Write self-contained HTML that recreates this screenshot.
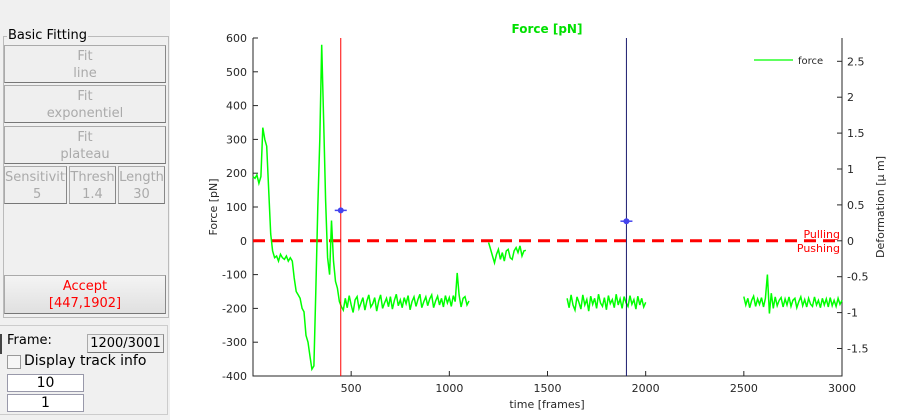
<!DOCTYPE html>
<html><head><meta charset="utf-8"><style>
body{margin:0;width:900px;height:420px;background:#fff;font-family:"DejaVu Sans","Liberation Sans",sans-serif;position:relative;overflow:hidden}
.lp{position:absolute;left:0;top:0;width:170px;height:420px;background:#f0f0f0}
.btn{position:absolute;background:#efefef;border:1px solid #aaa;border-bottom-color:#777;border-right-color:#888;color:#aaa;font-size:13px;text-align:center;line-height:17px;box-sizing:border-box;padding-top:2px;overflow:hidden;white-space:nowrap}
.inp{position:absolute;background:#fff;border:1px solid #99a;font-size:14px;text-align:center;line-height:16px;box-sizing:border-box}
</style></head><body>
<div class="lp">
 <div style="position:absolute;left:3px;top:36px;width:164px;height:280px;border:1px solid #bbb"></div>
 <div style="position:absolute;left:7px;top:28px;background:#f0f0f0;font-size:13px;padding:0 1px">Basic Fitting</div>
 <div class="btn" style="left:4px;top:45px;width:162px;height:38px">Fit<br>line</div>
 <div class="btn" style="left:4px;top:85px;width:162px;height:38px">Fit<br>exponentiel</div>
 <div class="btn" style="left:4px;top:126px;width:162px;height:38px">Fit<br>plateau</div>
 <div class="btn" style="left:4px;top:166px;width:63px;height:38px;text-align:left">Sensitivity<br><span style="padding-left:28px">5</span></div>
 <div class="btn" style="left:69px;top:166px;width:47px;height:38px">Thresh<br>1.4</div>
 <div class="btn" style="left:118px;top:166px;width:47px;height:38px">Length<br>30</div>
 <div class="btn" style="left:4px;top:275px;width:162px;height:39px;color:#f00;background:linear-gradient(#f4f4f4,#e0e0e0)">Accept<br>[447,1902]</div>
 <div style="position:absolute;left:0;top:325px;width:167px;height:88px;border-top:1px solid #ccc;border-right:1px solid #ccc;border-bottom:1px solid #ccc"></div>
 <div style="position:absolute;left:0;top:334px;width:2px;height:20px;background:#444"></div>
 <div style="position:absolute;left:7px;top:333px;font-size:13px">Frame:</div>
 <div class="btn" style="left:87px;top:334px;width:77px;height:19px;color:#000;font-size:13px;padding-top:0;line-height:17px">1200/3001</div>
 <div style="position:absolute;left:7px;top:355px;width:12px;height:12px;border:1px solid #999;background:#f6f6f6"></div>
 <div style="position:absolute;left:24px;top:353px;font-size:14px">Display track info</div>
 <div class="inp" style="left:7px;top:374px;width:77px;height:18px">10</div>
 <div class="inp" style="left:7px;top:394px;width:77px;height:18px">1</div>
</div>
<svg id="chart" width="900" height="420" style="position:absolute;left:0;top:0"></svg>
<script>
const xTicks=[500,1000,1500,2000,2500,3000];
const yTicks=[-400,-300,-200,-100,0,100,200,300,400,500,600];
const yRTicks=[-1.5,-1,-0.5,0,0.5,1,1.5,2,2.5];
const forceStart=0, forceStep=10;
const forceValues=[
190,185,195,170,190,335,300,280,150,20,
-30,-50,-45,-60,-40,-50,-55,-45,-60,-50,-60,
-110,-150,-160,-170,-200,-210,-280,-300,-340,
-380,-370,-150,100,300,580,350,120,-50,-100,60,-60,-120,-140,-180,-195,
-205,-170,-198,-162,-190,-212,-175,-165,-200,-184,-168,-205,-178,-160,-196,-186,-168,-208,-178,-160,-200,-184,-170,-195,-165,-202,-176,-158,-192,-175,-198,-168,-186,-162,-204,-180,-166,-194,-174,-158,-198,-180,-166,-192,-172,-160,-198,-178,-164,-190,-170,-196,-162,-184,-168,-194,-162,-180,-95,-160,-196,-170,-165,-190,-178,
null,null,null,null,null,null,null,null,null,
-5,-25,-45,-65,-40,-25,-55,-35,-60,-30,-25,-50,-55,-30,-20,-35,-15,-45,-30,-28,
null,null,null,null,null,null,null,null,null,null,null,null,null,null,null,null,null,null,null,null,
-170,-198,-160,-190,-205,-166,-182,-202,-160,-190,-174,-208,-164,-188,-170,-200,-158,-184,-194,-168,-204,-162,-186,-174,-198,-158,-190,-172,-200,-165,-183,-194,-162,-188,-174,-202,-164,-190,-170,-196,-182,
null,null,null,null,null,null,null,null,null,null,null,null,null,null,null,null,null,null,null,null,null,null,null,null,null,null,null,null,null,null,null,null,null,null,null,null,null,null,null,null,null,null,null,null,null,null,null,null,null,
-165,-190,-170,-198,-176,-164,-194,-172,-188,-168,-196,-170,-100,-215,-155,-200,-166,-192,-176,-168,-196,-172,-190,-166,-194,-176,-170,-198,-180,-166,-192,-174,-196,-170,-188,-194,-166,-190,-176,-198,-170,-190,-172,-196,-168,-192,-176,-194,-170,-188,-176
];
const markerFrames=[447,1902];
const markerForces=[90,58];
const cursorFrames=[447,1902];
const L=253,R=842,T=38,B=376;
const X=v=>L+(v-0)/3000*(R-L);
const Y=v=>B-(v+400)/1000*(B-T);
const YR=v=>240.8-v*71.8;
const svg=document.getElementById('chart');const NS='http://www.w3.org/2000/svg';
function mk(t,a,p){const e=document.createElementNS(NS,t);for(const k in a)e.setAttribute(k,a[k]);(p||svg).appendChild(e);return e;}
function txt(x,y,s,a){const e=mk('text',Object.assign({x:x,y:y,'font-size':11,fill:'#262626','font-family':'DejaVu Sans, Liberation Sans, sans-serif'},a||{}));e.textContent=s;return e;}
const ax=mk('path',{d:`M${L},${T}V${B}H${R}V${T}`,fill:'none',stroke:'#262626','stroke-width':1});


xTicks.forEach(v=>{const x=X(v);mk('line',{x1:x,x2:x,y1:B,y2:B-5,stroke:'#262626'});const t=txt(x,B+16,String(v),{'text-anchor':'middle'});

});
yTicks.forEach(v=>{const y=Y(v);mk('line',{x1:L,x2:L+5,y1:y,y2:y,stroke:'#262626'});const t=txt(L-6,y+4,String(v),{'text-anchor':'end'});

});
yRTicks.forEach(v=>{const y=YR(v);mk('line',{x1:R,x2:R-5,y1:y,y2:y,stroke:'#262626'});const t=txt(R+5,y+4,String(v));

});
const zl=mk('line',{x1:L,x2:R,y1:Y(0),y2:Y(0),stroke:'#f00','stroke-width':3,'stroke-dasharray':'12,7'});


let d='',pen=false;
forceValues.forEach((v,i)=>{if(v===null){pen=false;return;}const f=forceStart+i*forceStep;d+=(pen?'L':'M')+X(f).toFixed(1)+','+Y(v).toFixed(1);pen=true;});
const fl=mk('path',{d:d,fill:'none',stroke:'#00ff00','stroke-width':1.5});


cursorFrames.forEach((f,i)=>{const c=mk('line',{x1:X(f),x2:X(f),y1:T,y2:B,stroke:i===0?'#f00':'#1a1a6e','stroke-width':1});

});
markerFrames.forEach((f,i)=>{const x=X(f),y=Y(markerForces[i]);const g=mk('g',{});


mk('line',{x1:x-6,x2:x+6,y1:y,y2:y,stroke:'#4444ee','stroke-width':1.5},g);mk('circle',{cx:x,cy:y,r:3,fill:'#4444ee'},g);});
let t;
t=txt(547,33,'Force [pN]',{'text-anchor':'middle','font-weight':'bold','font-size':12,fill:'#00e000'});


t=txt(547,408,'time [frames]',{'text-anchor':'middle'});


t=txt(0,0,'Force [pN]',{'text-anchor':'middle',transform:'translate(217,207) rotate(-90)'});


t=txt(0,0,'Deformation [\u03bc m]',{'text-anchor':'middle',transform:'translate(884,207) rotate(-90)'});


t=txt(840,238,'Pulling',{'text-anchor':'end',fill:'#f00'});


t=txt(840,252,'Pushing',{'text-anchor':'end',fill:'#f00'});


const lg=mk('line',{x1:754,x2:793,y1:60,y2:60,stroke:'#00ff00','stroke-width':1.2});


t=txt(798,64,'force',{'font-size':10});


</script>
</body></html>
